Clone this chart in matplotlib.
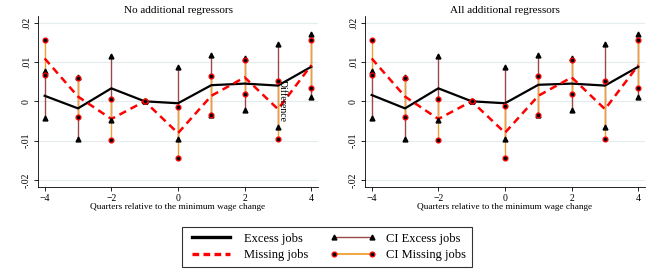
import numpy as np
import matplotlib
matplotlib.use("Agg")
import matplotlib.pyplot as plt
from matplotlib.lines import Line2D

plt.rcParams['font.family'] = ['Liberation Serif', 'DejaVu Serif']

kwartaly = [-4, -3, -2, -1, 0, 1, 2, 3, 4]

# panel 1 - bez dodatkowych regresorow
excess_1 = [0.0014, -0.0018, 0.0033, 0.0, -0.0005, 0.0041, 0.0045, 0.0040, 0.0088]
missing_1 = [0.0109, 0.0012, -0.0045, 0.0, -0.0081, 0.0014, 0.0061, -0.0020, 0.0092]
ci_exc_hi_1 = [0.0078, 0.0063, 0.0115, 0.0, 0.0086, 0.0118, 0.0110, 0.0147, 0.0171]
ci_exc_lo_1 = [-0.0043, -0.0097, -0.0047, 0.0, -0.0095, -0.0035, -0.0022, -0.0066, 0.0011]
ci_mis_hi_1 = [0.0155, 0.0060, 0.0005, 0.0, -0.0014, 0.0064, 0.0105, 0.0052, 0.0156]
ci_mis_lo_1 = [0.0066, -0.0039, -0.0099, 0.0, -0.0145, -0.0035, 0.0018, -0.0097, 0.0035]

# panel 2 - wszystkie dodatkowe regresory
excess_2 = [0.0016, -0.0018, 0.0033, 0.0, -0.0005, 0.0042, 0.0045, 0.0040, 0.0088]
missing_2 = [0.0109, 0.0012, -0.0045, 0.0, -0.0080, 0.0014, 0.0061, -0.0020, 0.0092]
ci_exc_hi_2 = [0.0078, 0.0063, 0.0115, 0.0, 0.0086, 0.0118, 0.0110, 0.0147, 0.0171]
ci_exc_lo_2 = [-0.0043, -0.0097, -0.0047, 0.0, -0.0095, -0.0035, -0.0022, -0.0066, 0.0011]
ci_mis_hi_2 = [0.0155, 0.0060, 0.0005, 0.0, -0.0013, 0.0065, 0.0105, 0.0052, 0.0156]
ci_mis_lo_2 = [0.0066, -0.0039, -0.0099, 0.0, -0.0145, -0.0035, 0.0018, -0.0097, 0.0035]

y_ticks = [-0.02, -0.01, 0, 0.01, 0.02]
y_labels = ['-.02', '-.01', '0', '.01', '.02']
x_ticks = [-4, -2, 0, 2, 4]

KOL_EXC_CI = '#9c4848'
KOL_MIS_CI = '#f0a030'


def rysuj_panel(ax, exc, mis, e_hi, e_lo, m_hi, m_lo, tytul):
    x = np.array(kwartaly)
    ax.set_facecolor('white')
    for y in y_ticks:
        ax.axhline(y, color='#e3ecee', lw=0.8, zorder=0)

    # przedzialy ufnosci
    ax.vlines(x, e_lo, e_hi, color=KOL_EXC_CI, lw=1.0, zorder=1)
    ax.vlines(x, m_lo, m_hi, color=KOL_MIS_CI, lw=1.0, zorder=1)

    ax.plot(x, exc, color='black', lw=1.6, zorder=2)
    ax.plot(x, mis, color='red', lw=1.8, ls=(0, (3, 2)), zorder=2)

    ax.plot(x, e_hi, '^', color='black', ms=3.5, ls='none', zorder=3)
    ax.plot(x, e_lo, '^', color='black', ms=3.5, ls='none', zorder=3)
    ax.plot(x, m_hi, 'o', mfc='black', mec='red', mew=0.9, ms=3.5, ls='none', zorder=3)
    ax.plot(x, m_lo, 'o', mfc='black', mec='red', mew=0.9, ms=3.5, ls='none', zorder=3)

    ax.set_xlim(-4.2, 4.2)
    ax.set_ylim(-0.0218, 0.0217)
    ax.set_xticks(x_ticks)
    ax.set_yticks(y_ticks)
    ax.set_yticklabels(y_labels, rotation=90, va='center')
    ax.tick_params(labelsize=7, length=3, width=0.6, pad=2)
    ax.spines['top'].set_visible(False)
    ax.spines['right'].set_visible(False)
    ax.spines['left'].set_linewidth(0.6)
    ax.spines['bottom'].set_linewidth(0.6)
    ax.set_xlabel('Quarters relative to the minimum wage change', fontsize=6.7, labelpad=0)
    ax.set_title(tytul, fontsize=8, pad=2.5)


fig = plt.figure(figsize=(6.5, 2.72), dpi=100)
ax1 = fig.add_axes([38 / 650, 85 / 272, 280 / 650, 171 / 272])
ax2 = fig.add_axes([365 / 650, 85 / 272, 280 / 650, 171 / 272])

rysuj_panel(ax1, excess_1, missing_1, ci_exc_hi_1, ci_exc_lo_1, ci_mis_hi_1, ci_mis_lo_1,
            'No additional regressors')
rysuj_panel(ax2, excess_2, missing_2, ci_exc_hi_2, ci_exc_lo_2, ci_mis_hi_2, ci_mis_lo_2,
            'All additional regressors')

# zabłąkany napis z oryginalu
ax1.text(3.14, 0.0, 'Difference', rotation=270, fontsize=7, ha='center', va='center', zorder=4)

uchwyty = [
    Line2D([], [], color='black', lw=2.4),
    Line2D([], [], color='red', lw=2.4, ls=(0, (2, 1.3))),
    Line2D([], [], color=KOL_EXC_CI, lw=1.0, marker='^', mfc='black', mec='black', ms=3.5),
    Line2D([], [], color=KOL_MIS_CI, lw=1.3, marker='o', mfc='black', mec='red', mew=0.9, ms=3.5),
]
etykiety = ['Excess jobs', 'Missing jobs', 'CI Excess jobs', 'CI Missing jobs']
leg = fig.legend(uchwyty, etykiety, ncol=2, loc='center', bbox_to_anchor=(327 / 650, 1 - 247 / 272),
                 fontsize=9, frameon=True, fancybox=False, numpoints=2, handlelength=3.7,
                 columnspacing=1.7, handletextpad=0.8, labelspacing=0.35, borderpad=0.5)
leg.get_frame().set_edgecolor('black')
leg.get_frame().set_linewidth(0.8)

fig.savefig('out.png', dpi=100)
